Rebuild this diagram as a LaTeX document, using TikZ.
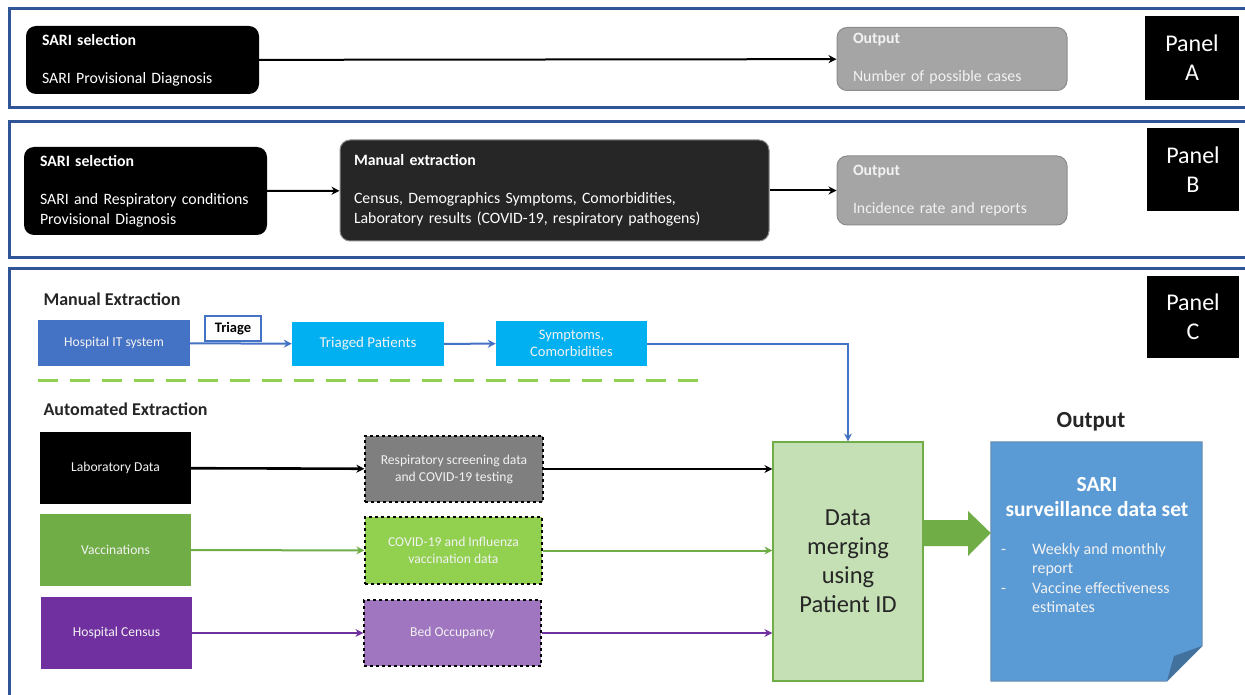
\documentclass[tikz,border=0pt]{standalone}
\usepackage{fontspec}
\setmainfont{Carlito}
\usetikzlibrary{arrows.meta}

\definecolor{panelblue}{RGB}{47,85,151}
\definecolor{outgray}{RGB}{165,165,165}
\definecolor{outline}{RGB}{140,140,140}
\definecolor{darkbox}{RGB}{38,38,38}
\definecolor{itblue}{RGB}{68,114,196}
\definecolor{cyanbox}{RGB}{0,176,240}
\definecolor{vacgreen}{RGB}{112,173,71}
\definecolor{limegreen}{RGB}{146,208,80}
\definecolor{census}{RGB}{112,48,160}
\definecolor{bedpurple}{RGB}{160,118,192}
\definecolor{labgray}{RGB}{127,127,127}
\definecolor{mergefill}{RGB}{197,224,180}
\definecolor{docblue}{RGB}{91,155,213}
\definecolor{docfold}{RGB}{65,113,156}
\definecolor{headtext}{RGB}{38,38,38}
\definecolor{softwhite}{RGB}{242,242,242}

\tikzset{
  panel/.style={draw=panelblue, line width=3pt},
  tag/.style={fill=black, text=white, align=center, inner sep=0pt,
    font=\fontsize{24}{29}\selectfont},
  selbox/.style={rounded corners=10pt, fill=black, text=white, align=left,
    inner xsep=16pt, inner ysep=0pt, font=\fontsize{15.8}{20}\selectfont},
  manbox/.style={selbox, fill=darkbox, draw=outline, line width=1pt},
  outbox/.style={selbox, fill=outgray, draw=outline, line width=1pt, text=softwhite},
  head/.style={anchor=west, text=headtext, font=\bfseries\fontsize{18}{22}\selectfont},
  srcbox/.style={text=softwhite, align=center, inner sep=0pt,
    font=\fontsize{13.6}{17}\selectfont},
  dashbox/.style={srcbox, draw=black, dashed, line width=1.2pt},
  flow/.style={line width=2pt, >={Stealth[length=8pt,width=8pt]}, ->},
}

\begin{document}
\begin{tikzpicture}[x=1pt,y=-1pt]
\fill[white] (0,0) rectangle (1245,695);
\useasboundingbox (0,0) rectangle (1245,695);
\begin{scope}
\clip (0,0) rectangle (1245,695);

% panel frames
\draw[panel] (9,9) rectangle (1270,108);
\draw[panel] (9,122) rectangle (1270,257);
\draw[panel] (9,268) rectangle (1270,720);

% panel A
\node[selbox, minimum width=233, minimum height=68, text width=201] (selA) at (142.5,60)
  {\textbf{SARI selection}\\[18pt]SARI Provisional Diagnosis};
\node[outbox, minimum width=228, minimum height=63, text width=198] (outA) at (952,59)
  {\textbf{Output}\\[18pt]Number of possible cases};
\draw[flow] (selA) -- (outA);
\node[tag, minimum width=94, minimum height=84] (tagA) at (1192,58) {Panel\\A};

% panel B
\node[selbox, minimum width=241, minimum height=88, text width=211] (selB) at (145.5,191)
  {\textbf{SARI selection}\\[18pt]SARI and Respiratory conditions\\Provisional Diagnosis};
\node[manbox, minimum width=429, minimum height=101, text width=401, inner xsep=14pt] (manB) at (554.5,190.5)
  {\textbf{Manual extraction}\\[18pt]Census, Demographics Symptoms, Comorbidities,\\Laboratory results (COVID-19, respiratory pathogens)};
\node[outbox, minimum width=228, minimum height=69, text width=198] (outB) at (952,190.5)
  {\textbf{Output}\\[18pt]Incidence rate and reports};
\draw[flow] (selB) -- (manB);
\draw[flow] (manB) -- (outB);
\node[tag, minimum width=92, minimum height=83] (tagB) at (1193,169.5) {Panel\\B};

% panel C
\node[tag, minimum width=92, minimum height=82] (tagC) at (1193,317) {Panel\\C};
\node[head] (manual) at (40,299) {Manual Extraction};
\node[head] (auto) at (40,409) {Automated Extraction};

\node[srcbox, fill=itblue, minimum width=152, minimum height=46] (hosp) at (114,343) {Hospital IT system};
\node[draw=itblue, line width=2pt, fill=white, minimum width=56, minimum height=25, inner sep=0pt,
  font=\bfseries\fontsize{14.5}{15}\selectfont] (triage) at (233,328.5) {Triage};
\node[srcbox, fill=cyanbox, minimum width=152, minimum height=44,
  font=\fontsize{15}{17}\selectfont] (triaged) at (368,344) {Triaged Patients};
\node[srcbox, fill=cyanbox, minimum width=151, minimum height=45,
  font=\fontsize{14.5}{17}\selectfont] (sympt) at (571.5,343.5) {Symptoms,\\Comorbidities};

\draw[limegreen, line width=3pt, dash pattern=on 20pt off 12pt] (38,380) -- (700,380);

\node[srcbox, fill=black, minimum width=151, minimum height=72] (lab) at (115.5,468) {Laboratory Data};
\node[srcbox, fill=vacgreen, minimum width=151, minimum height=72] (vacc) at (115.5,550) {Vaccinations};
\node[srcbox, fill=census, minimum width=151, minimum height=72] (cens) at (116.5,633) {Hospital Census};

\node[dashbox, fill=labgray, minimum width=178, minimum height=66] (resp) at (454,469)
  {Respiratory screening data\\and COVID-19 testing};
\node[dashbox, fill=limegreen, minimum width=177, minimum height=67] (flu) at (453.5,550.5)
  {COVID-19 and Influenza\\vaccination data};
\node[dashbox, fill=bedpurple, minimum width=177, minimum height=66] (bed) at (452.5,633)
  {Bed Occupancy};

\node[fill=mergefill, draw=vacgreen, line width=1.2pt, minimum width=150, minimum height=239,
  align=center, text=headtext, font=\fontsize{24.5}{29}\selectfont] (merge) at (848,561.5)
  {Data\\merging\\using\\Patient ID};

\draw[flow, itblue] (hosp) -- (triaged);
\draw[flow, itblue] (triaged) -- (sympt);
\draw[flow, itblue] (sympt.east) -| (merge.north);
\draw[flow, black, line width=2.6pt] (lab) -- (resp);
\draw[flow, black, line width=2.6pt] (resp.east) -- (merge.west |- resp.east);
\draw[flow, vacgreen] (vacc) -- (flu);
\draw[flow, vacgreen] (flu.east) -- (merge.west |- flu.east);
\draw[flow, census] (cens) -- (bed);
\draw[flow, census] (bed.east) -- (merge.west |- bed.east);

% output document
\node[minimum width=211, minimum height=239, inner sep=0pt] (doc) at (1096.5,561.5) {};
\fill[docblue, draw=docfold!80, line width=1pt] (doc.north west) -- (doc.north east) -- (1202,646)
  -- (1167,681) -- (doc.south west) -- cycle;
\fill[docfold] (1202,646) -- (1167,681) -- (1174,656) -- cycle;
\node[text=headtext, font=\bfseries\fontsize{23}{26}\selectfont] (outC) at (1091,422) {Output};
\node[text=white, align=center, font=\bfseries\fontsize{21.5}{25}\selectfont] (doctitle) at (1097,497.5)
  {SARI\\surveillance data set};
\node[anchor=north west, text=softwhite, align=left, inner sep=0pt,
  font=\fontsize{16}{19.5}\selectfont] (docitems) at (1001,543)
  {\makebox[31pt][l]{-}Weekly and monthly\\\hspace*{31pt}report\\\makebox[31pt][l]{-}Vaccine effectiveness\\\hspace*{31pt}estimates};

% block arrow into the output
\fill[vacgreen] (merge.east |- 0,520) -- (968,520) -- (968,511) -- (doc.west |- 0,533)
  -- (968,556) -- (968,546) -- (merge.east |- 0,546) -- cycle;
\end{scope}
\end{tikzpicture}
\end{document}
